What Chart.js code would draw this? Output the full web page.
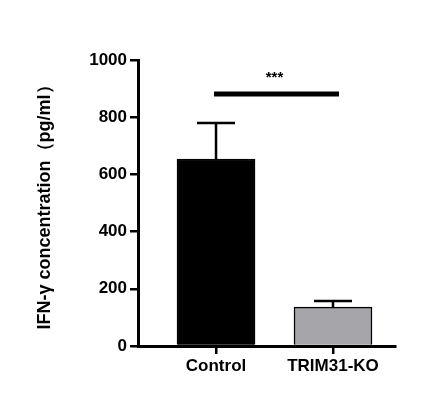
<!DOCTYPE html>
<html><head><script src="https://cdn.jsdelivr.net/npm/chart.js@4"></script>
<style>body{margin:0;background:#fff}</style></head>
<body><canvas id="c" width="446" height="419" style="width:446px;height:419px"></canvas>
<script>
const categories = ['Control', 'TRIM31-KO'];
const means = [654, 136];
const errUp = [780, 157];
const colors = ['#000000', '#a6a6aa'];
const yTicks = [0, 200, 400, 600, 800, 1000];
const sigLevel = 881;
const sigText = '***';

const F = 'Liberation Sans, Arial, sans-serif';
const overlay = {
  id: 'overlay',
  afterDatasetsDraw(chart) {
    const ctx = chart.ctx, x = chart.scales.x, y = chart.scales.y;
    ctx.save();
    ctx.strokeStyle = '#000'; ctx.lineWidth = 2.5;
    means.forEach((m, i) => {
      const cx = x.getPixelForValue(i + 1);
      ctx.beginPath();
      ctx.moveTo(cx, y.getPixelForValue(m)); ctx.lineTo(cx, y.getPixelForValue(errUp[i]));
      ctx.moveTo(cx - 19, y.getPixelForValue(errUp[i])); ctx.lineTo(cx + 19, y.getPixelForValue(errUp[i]));
      ctx.stroke();
    });
    ctx.lineWidth = 5;
    const sy = y.getPixelForValue(sigLevel);
    ctx.beginPath(); ctx.moveTo(x.getPixelForValue(1) - 2, sy); ctx.lineTo(x.getPixelForValue(2) + 6, sy); ctx.stroke();
    ctx.fillStyle = '#000'; ctx.font = 'bold 15px ' + F; ctx.textAlign = 'center';
    ctx.fillText(sigText, (x.getPixelForValue(1) + x.getPixelForValue(2)) / 2, sy - 12);
    ctx.restore();
  }
};

new Chart(document.getElementById('c'), {
  type: 'bar',
  data: { datasets: [{
    data: categories.map((c, i) => ({ x: i + 1, y: means[i] })),
    backgroundColor: colors, borderColor: '#000', borderWidth: 1.5,
    barThickness: 78
  }] },
  options: {
    responsive: false, animation: false,
    layout: { padding: { left: 0, right: 51, top: 60, bottom: 0 } },
    plugins: { legend: { display: false }, tooltip: { enabled: false } },
    scales: {
      x: {
        type: 'linear', min: 0.333, max: 2.53, offset: false, bounds: 'ticks',
        afterBuildTicks: s => { s.ticks = categories.map((c, i) => ({ value: i + 1 })); },
        afterFit: s => { s.height = 419 - 346; },
        ticks: { color: '#000', font: { family: F, size: 17, weight: 'bold' }, padding: 2,
          callback: v => categories[v - 1] },
        grid: { drawOnChartArea: false, offset: false, tickLength: 8, lineWidth: 2.5, color: '#000' },
        border: { width: 3, color: '#000' }
      },
      y: {
        min: 0, max: 1000,
        afterBuildTicks: s => { s.ticks = yTicks.map(v => ({ value: v })); },
        afterFit: s => { s.width = 138; },
        ticks: { color: '#000', font: { family: F, size: 17, weight: 'bold' }, padding: 3,
          callback: v => String(v) },
        grid: { drawOnChartArea: false, tickLength: 8, lineWidth: 2.5, color: '#000' },
        border: { width: 3, color: '#000' },
        title: { display: true, text: 'IFN-γ concentration（pg/ml）', color: '#000',
          font: { family: F, size: 18, weight: 'bold' }, padding: { top: 34, bottom: 0 } }
      }
    }
  },
  plugins: [overlay]
});
</script></body></html>
